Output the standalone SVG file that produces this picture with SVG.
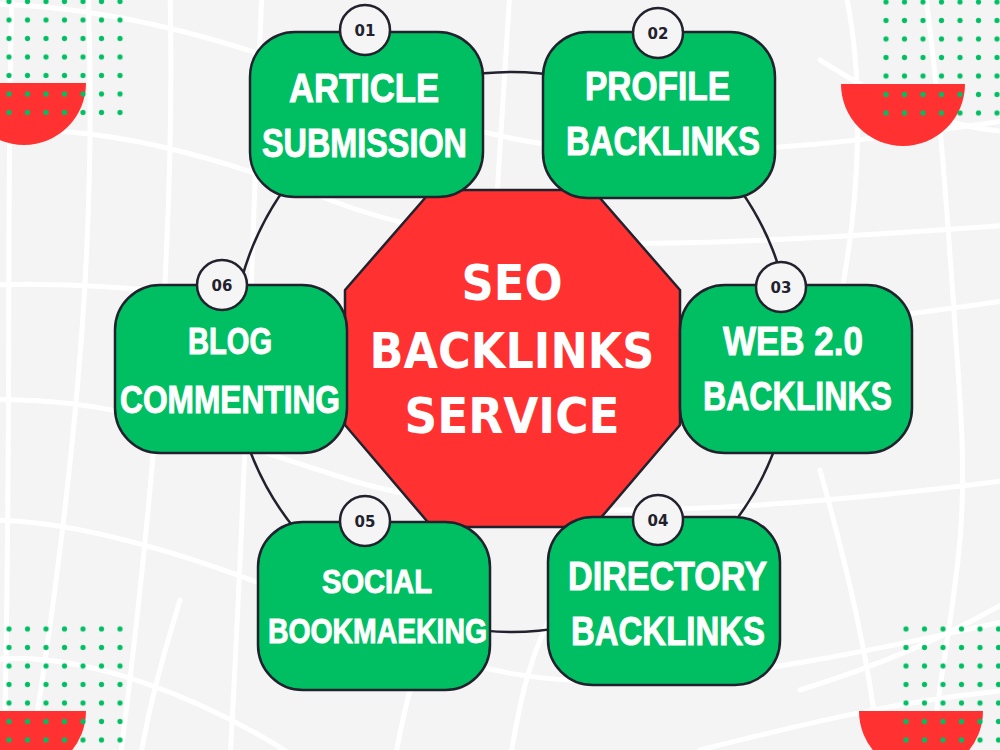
<svg xmlns="http://www.w3.org/2000/svg" width="1000" height="750" viewBox="0 0 1000 750">
<style>
.bg{fill:#f4f4f4}
.grid{fill:none;stroke:#ffffff;stroke-width:5;stroke-linecap:round}
.dot{fill:#00bf63}
.half{fill:#ff3131}
.conn{fill:none;stroke:#22222e;stroke-width:2.5}
.box{fill:#00bf63;stroke:#22222e;stroke-width:2.5}
.badge{fill:#f5f5f5;stroke:#22222e;stroke-width:2.5}
.num{font-family:"DejaVu Sans",sans-serif;font-weight:bold;font-size:15px;fill:#22222e;text-anchor:middle}
.lbl{font-family:"Liberation Sans",Arial,sans-serif;font-weight:bold;fill:#ffffff;stroke:#ffffff;stroke-width:1;text-anchor:middle}
.hub{fill:#ff3131;stroke:#22222e;stroke-width:2.5;stroke-linejoin:round}
.hubt{font-family:"DejaVu Sans",sans-serif;font-weight:bold;font-size:50px;fill:#ffffff;text-anchor:middle}
</style>
<defs>
<pattern id="dotsTL" x="-0.25" y="-7.75" width="18.5" height="18.5" patternUnits="userSpaceOnUse"><circle cx="9.25" cy="9.25" r="2.6" class="dot"/></pattern>
<pattern id="dotsTR" x="876.75" y="-7.25" width="18.5" height="18.5" patternUnits="userSpaceOnUse"><circle cx="9.25" cy="9.25" r="2.6" class="dot"/></pattern>
<pattern id="dotsBL" x="-0.25" y="619.75" width="18.5" height="18.5" patternUnits="userSpaceOnUse"><circle cx="9.25" cy="9.25" r="2.6" class="dot"/></pattern>
<pattern id="dotsBR" x="896.75" y="619.75" width="18.5" height="18.5" patternUnits="userSpaceOnUse"><circle cx="9.25" cy="9.25" r="2.6" class="dot"/></pattern>
</defs>
<rect class="bg" x="0" y="0" width="1000" height="750"/>
<g id="background-grid">
<path class="grid" d="M-10,4 C120,6 250,45 400,105 S700,165 1010,120"/>
<path class="grid" d="M-10,130 C100,126 200,150 330,200 S600,255 1010,225"/>
<path class="grid" d="M-10,285 C120,280 250,300 400,330 S800,330 1010,300"/>
<path class="grid" d="M-10,400 C120,396 220,440 350,480 S700,520 1010,480"/>
<path class="grid" d="M-10,520 C100,520 250,575 400,640 S700,690 1010,620"/>
<path class="grid" d="M-10,660 C80,650 200,695 300,760"/>
<path class="grid" d="M820,60 C860,85 920,125 1010,132"/>
<path class="grid" d="M800,690 C880,665 940,640 1010,600"/>
<path class="grid" d="M700,750 C800,725 900,700 1010,690"/>
<path class="grid" d="M12,-10 C6,200 12,420 4,760"/>
<path class="grid" d="M88,-10 C96,200 84,420 30,760"/>
<path class="grid" d="M170,-10 C175,200 160,450 120,760"/>
<path class="grid" d="M262,-10 C255,150 250,400 230,760"/>
<path class="grid" d="M510,-10 C505,60 500,150 495,230"/>
<path class="grid" d="M440,600 C420,650 405,700 395,760"/>
<path class="grid" d="M560,600 C530,650 520,700 510,760"/>
<path class="grid" d="M845,-10 C865,80 860,200 840,300"/>
<path class="grid" d="M925,-10 C940,100 950,250 960,400 S950,600 930,760"/>
<path class="grid" d="M820,470 C845,560 870,660 880,760"/>
<path class="grid" d="M180,600 C165,650 150,700 140,760"/>
</g>
<g id="decor-top-left">
<path class="half" d="M-38,83 L86,83 A62,62 0 0 1 -38,83 Z"/>
<rect x="0" y="-8" width="130" height="130" fill="url(#dotsTL)"/>
</g>
<g id="decor-top-right">
<path class="half" d="M841,84 L965,84 A62,62 0 0 1 841,84 Z"/>
<rect x="876" y="-8" width="130" height="130" fill="url(#dotsTR)"/>
</g>
<g id="decor-bottom-left">
<path class="half" d="M-38,711 L86,711 A62,62 0 0 1 -38,711 Z"/>
<rect x="0" y="619" width="130" height="131" fill="url(#dotsBL)"/>
</g>
<g id="decor-bottom-right">
<path class="half" d="M859,711 L983,711 A62,62 0 0 1 859,711 Z"/>
<rect x="896" y="619" width="110" height="131" fill="url(#dotsBR)"/>
</g>
<g id="connectors">
<circle class="conn" cx="512" cy="352" r="280"/>
</g>
<g id="hub">
<polygon class="hub" points="432,190 593,190 680,290 680,425 593,527 432,527 345,425 345,290"/>
<text class="hubt" x="512" y="300" textLength="101" lengthAdjust="spacingAndGlyphs">SEO</text>
<text class="hubt" x="512" y="368" textLength="285" lengthAdjust="spacingAndGlyphs">BACKLINKS</text>
<text class="hubt" x="512" y="433" textLength="215" lengthAdjust="spacingAndGlyphs">SERVICE</text>
</g>
<g id="node-01">
<rect class="box" x="250" y="32" width="233" height="165" rx="45"/>
<circle class="badge" cx="365" cy="30" r="25"/>
<text class="num" x="365" y="35.5">01</text>
<text class="lbl" x="364" y="102" font-size="41" textLength="150" lengthAdjust="spacingAndGlyphs">ARTICLE</text>
<text class="lbl" x="364.5" y="157" font-size="41" textLength="205" lengthAdjust="spacingAndGlyphs">SUBMISSION</text>
</g>
<g id="node-02">
<rect class="box" x="543" y="32" width="232" height="166" rx="45"/>
<circle class="badge" cx="658" cy="33" r="25"/>
<text class="num" x="658" y="38.5">02</text>
<text class="lbl" x="657.5" y="100" font-size="41" textLength="145" lengthAdjust="spacingAndGlyphs">PROFILE</text>
<text class="lbl" x="663" y="155" font-size="41" textLength="194" lengthAdjust="spacingAndGlyphs">BACKLINKS</text>
</g>
<g id="node-03">
<rect class="box" x="680" y="285" width="232" height="168" rx="45"/>
<circle class="badge" cx="781" cy="287" r="25"/>
<text class="num" x="781" y="292.5">03</text>
<text class="lbl" x="793" y="355" font-size="41" textLength="140" lengthAdjust="spacingAndGlyphs">WEB 2.0</text>
<text class="lbl" x="797.5" y="410" font-size="41" textLength="189" lengthAdjust="spacingAndGlyphs">BACKLINKS</text>
</g>
<g id="node-04">
<rect class="box" x="548" y="517" width="232" height="168" rx="45"/>
<circle class="badge" cx="658" cy="520" r="25"/>
<text class="num" x="658" y="525.5">04</text>
<text class="lbl" x="667.5" y="590" font-size="41" textLength="199" lengthAdjust="spacingAndGlyphs">DIRECTORY</text>
<text class="lbl" x="668" y="645" font-size="41" textLength="194" lengthAdjust="spacingAndGlyphs">BACKLINKS</text>
</g>
<g id="node-05">
<rect class="box" x="258" y="522" width="232" height="168" rx="45"/>
<circle class="badge" cx="365" cy="521" r="25"/>
<text class="num" x="365" y="526.5">05</text>
<text class="lbl" x="377" y="593" font-size="33" textLength="110" lengthAdjust="spacingAndGlyphs">SOCIAL</text>
<text class="lbl" x="377.5" y="643" font-size="35" textLength="219" lengthAdjust="spacingAndGlyphs">BOOKMAEKING</text>
</g>
<g id="node-06">
<rect class="box" x="115" y="285" width="232" height="168" rx="45"/>
<circle class="badge" cx="222" cy="285" r="25"/>
<text class="num" x="222" y="290.5">06</text>
<text class="lbl" x="230" y="354" font-size="37" textLength="84" lengthAdjust="spacingAndGlyphs">BLOG</text>
<text class="lbl" x="230" y="413" font-size="39" textLength="220" lengthAdjust="spacingAndGlyphs">COMMENTING</text>
</g>
</svg>
